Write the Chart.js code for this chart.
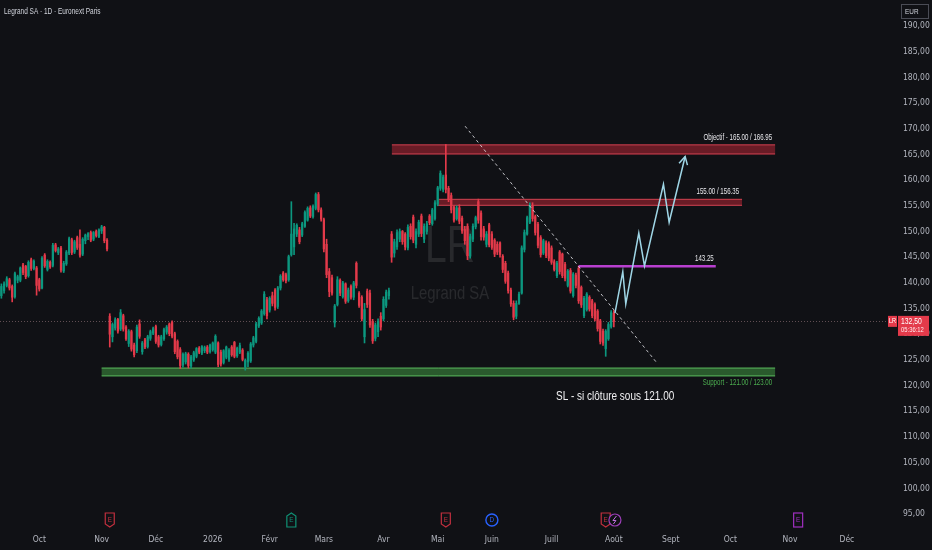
<!DOCTYPE html>
<html>
<head>
<meta charset="utf-8">
<script src="https://cdn.jsdelivr.net/npm/chart.js@4.4.1/dist/chart.umd.min.js"></script>
<style>
  html, body { margin: 0; padding: 0; background: #101115; }
  #wrap { width: 932px; height: 550px; }
</style>
</head>
<body>
<div id="wrap"><canvas id="myChart" width="932" height="550"></canvas></div>
<script>
'use strict';

// daily candles, 11 Sept 2025 -> 3 Aug 2026 (index = trading day)
let candleOpen = [
  137.5, 138.5, 139.5, 140.6, 139.3, 137.3, 140.5, 140.5, 143.5, 143.2,
  141.4, 144.5, 142.8, 142.9, 140.6, 139.0, 145.4, 142.6, 144.0, 143.4,
  147.4, 145.9, 146.8, 142.3, 143.7, 145.8, 148.4, 146.0, 148.8, 147.5,
  145.6, 148.2, 149.0, 149.8, 148.5, 150.0, 149.0, 150.1, 150.8, 148.3,
  133.5, 129.5, 131.2, 132.9, 131.0, 133.6, 131.4, 128.2, 130.5, 127.9,
  126.8, 132.0, 126.6, 128.9, 127.6, 129.2, 130.2, 131.5, 129.5, 128.0,
  129.1, 130.4, 132.0, 132.3, 130.1, 128.6, 127.0, 124.0, 124.6, 126.1,
  123.8, 125.0, 125.7, 127.3, 126.3, 126.8, 127.5, 126.6, 127.0, 126.5,
  128.3, 126.5, 124.5, 125.5, 125.1, 127.5, 128.4, 125.8, 126.5, 126.9,
  123.6, 124.6, 124.8, 127.9, 128.6, 131.6, 132.2, 134.0, 136.7, 134.7,
  137.5, 138.6, 135.4, 139.0, 141.9, 141.6, 140.6, 145.5, 147.0, 149.5,
  150.3, 149.3, 151.0, 152.2, 154.6, 152.9, 154.5, 157.2, 154.2, 152.3,
  147.5, 142.2, 141.0, 132.2, 135.8, 140.5, 137.3, 139.8, 136.5, 139.3,
  137.2, 143.8, 138.0, 137.2, 129.5, 138.4, 138.0, 132.5, 129.2, 130.5,
  133.5, 133.0, 135.6, 137.5, 149.5, 145.8, 147.0, 148.5, 150.0, 149.5,
  146.8, 151.0, 152.8, 147.5, 149.5, 153.0, 148.5, 150.0, 153.0, 151.5,
  152.5, 155.3, 158.4, 158.2, 161.0, 158.4, 157.0, 154.8, 152.5, 154.6,
  152.6, 150.4, 151.0, 145.2, 148.5, 150.9, 155.8, 153.6, 150.5, 147.5,
  151.3, 149.5, 148.3, 147.5, 147.8, 145.2, 143.8, 141.9, 138.6, 136.0,
  133.5, 136.0, 138.0, 146.5, 149.5, 151.8, 155.0, 152.9, 151.4, 148.8,
  145.8, 147.8, 147.6, 146.8, 144.1, 141.4, 146.0, 145.6, 143.6, 139.5,
  142.4, 137.5, 141.5, 142.8, 139.1, 133.6, 134.8, 137.2, 136.5, 135.8,
  134.5, 132.6, 130.6, 127.2, 129.1, 131.5, 134.1
];
let candleHigh = [
  139.8, 140.2, 141.2, 140.9, 139.6, 142.1, 141.5, 143.1, 143.8, 143.4,
  144.3, 144.8, 144.5, 143.2, 140.9, 145.1, 145.7, 144.5, 144.3, 147.7,
  147.7, 146.9, 147.1, 144.2, 146.3, 148.9, 148.7, 148.3, 149.1, 150.3,
  148.8, 149.5, 149.8, 150.1, 150.0, 150.3, 150.5, 151.2, 151.0, 148.6,
  134.0, 132.2, 133.2, 133.1, 134.8, 133.9, 131.7, 130.9, 130.8, 128.3,
  131.8, 132.8, 128.6, 129.2, 129.8, 130.8, 131.4, 131.8, 129.8, 129.8,
  131.2, 131.7, 132.2, 132.6, 130.4, 128.9, 127.4, 126.4, 126.5, 126.4,
  125.9, 126.7, 127.4, 127.6, 127.8, 127.7, 127.8, 128.1, 128.5, 129.9,
  128.5, 126.9, 127.0, 127.7, 127.2, 127.8, 128.6, 127.5, 128.3, 127.2,
  125.2, 126.6, 128.4, 129.6, 132.3, 133.4, 134.8, 138.3, 137.2, 137.3,
  138.2, 138.9, 139.3, 141.6, 142.2, 141.9, 145.4, 155.8, 151.6, 151.5,
  150.8, 151.8, 154.0, 154.8, 155.0, 155.2, 157.5, 157.6, 154.6, 152.6,
  148.5, 142.8, 141.5, 135.8, 141.2, 140.8, 140.3, 140.0, 139.0, 139.6,
  140.3, 144.1, 138.3, 137.5, 136.0, 138.8, 138.6, 132.9, 132.2, 133.0,
  134.2, 137.3, 138.6, 139.0, 150.0, 148.5, 150.3, 150.5, 150.2, 149.8,
  151.3, 151.5, 153.2, 150.5, 152.2, 153.4, 151.5, 152.0, 153.3, 154.5,
  156.0, 158.8, 161.8, 161.0, 166.95, 158.8, 157.5, 155.0, 155.0, 155.2,
  153.0, 151.0, 151.5, 149.5, 151.5, 153.0, 156.3, 154.0, 151.0, 150.0,
  151.6, 150.0, 148.6, 148.0, 148.0, 145.5, 144.2, 142.3, 139.0, 136.5,
  136.5, 138.2, 147.2, 150.3, 153.0, 155.6, 155.6, 153.2, 151.8, 149.2,
  148.5, 148.2, 148.0, 147.2, 144.5, 144.2, 146.3, 145.8, 144.0, 142.6,
  142.8, 142.0, 141.9, 143.25, 139.4, 137.4, 138.1, 137.5, 136.8, 136.1,
  134.8, 132.9, 131.0, 130.9, 132.3, 134.6, 134.6
];
let candleLow = [
  137.0, 138.0, 139.2, 138.6, 136.3, 137.0, 140.0, 140.2, 141.6, 140.8,
  141.1, 142.4, 142.5, 137.6, 138.4, 138.8, 143.0, 142.3, 142.8, 143.1,
  146.0, 145.5, 142.1, 142.0, 143.4, 145.5, 145.5, 145.7, 146.5, 145.0,
  145.3, 147.6, 148.4, 148.0, 148.2, 148.9, 148.8, 149.6, 147.8, 146.2,
  127.5, 128.5, 130.8, 130.2, 130.7, 130.6, 128.8, 127.6, 126.7, 125.6,
  126.4, 129.2, 126.1, 127.2, 127.3, 128.8, 129.9, 128.2, 127.5, 127.7,
  128.8, 130.0, 129.7, 129.3, 126.2, 125.2, 123.3, 123.6, 124.2, 123.4,
  123.4, 124.7, 125.4, 126.2, 126.0, 126.4, 126.2, 126.3, 126.7, 126.2,
  123.7, 123.8, 124.2, 125.2, 124.7, 125.7, 125.4, 125.5, 126.2, 124.8,
  123.0, 123.7, 124.5, 127.5, 128.3, 131.3, 131.9, 133.7, 133.0, 134.3,
  135.5, 134.7, 135.0, 138.6, 140.3, 140.0, 140.3, 145.2, 145.5, 149.0,
  147.6, 149.0, 150.8, 152.0, 152.7, 152.6, 154.2, 153.8, 152.0, 146.0,
  141.0, 137.3, 137.6, 131.4, 135.5, 137.5, 137.0, 136.0, 136.2, 136.8,
  136.7, 139.0, 135.2, 132.6, 128.3, 135.2, 131.3, 128.2, 128.7, 129.5,
  130.8, 132.6, 135.2, 136.8, 144.0, 145.0, 146.5, 148.0, 147.5, 146.4,
  146.4, 148.5, 147.8, 146.8, 149.0, 149.0, 147.8, 149.5, 151.3, 151.2,
  152.2, 155.0, 158.0, 157.7, 157.5, 155.8, 153.6, 151.8, 152.2, 151.5,
  149.6, 147.5, 144.5, 144.8, 148.0, 150.5, 151.6, 148.3, 148.3, 147.0,
  147.0, 146.5, 145.1, 145.5, 145.0, 142.0, 139.9, 138.0, 135.4, 132.8,
  133.0, 135.8, 137.8, 146.0, 149.3, 151.5, 152.0, 149.3, 146.8, 145.0,
  145.5, 144.9, 144.3, 143.6, 142.3, 141.0, 141.7, 141.0, 140.4, 139.2,
  138.0, 137.2, 139.0, 136.0, 135.2, 133.2, 134.5, 134.5, 133.2, 132.6,
  130.6, 128.1, 127.8, 125.7, 128.8, 131.2, 131.4
];
let candleClose = [
  139.3, 139.8, 140.8, 139.0, 137.2, 141.8, 141.2, 142.9, 142.0, 141.2,
  144.0, 142.8, 144.2, 139.5, 138.8, 144.8, 143.3, 144.2, 143.1, 147.3,
  146.3, 146.6, 142.5, 143.8, 146.0, 148.6, 145.9, 148.0, 146.9, 145.4,
  148.5, 149.3, 149.6, 148.3, 149.8, 149.2, 150.3, 150.9, 148.2, 146.6,
  130.0, 131.9, 132.8, 130.6, 134.2, 131.0, 129.1, 130.6, 127.1, 126.0,
  131.4, 129.6, 128.3, 127.5, 129.5, 130.5, 131.1, 128.6, 127.9, 129.5,
  130.9, 131.4, 130.1, 129.6, 126.6, 125.6, 123.9, 126.1, 126.2, 123.9,
  125.6, 126.4, 127.2, 126.5, 127.6, 127.4, 126.5, 127.9, 128.3, 129.6,
  124.1, 124.2, 126.8, 127.5, 126.9, 126.0, 125.7, 127.3, 127.8, 125.1,
  124.9, 126.3, 128.1, 129.3, 132.0, 133.1, 134.5, 137.8, 133.6, 137.0,
  136.0, 135.2, 139.0, 141.3, 140.6, 140.4, 145.1, 149.5, 150.5, 151.2,
  148.0, 151.5, 153.7, 154.5, 153.0, 154.9, 157.2, 154.2, 152.4, 146.6,
  141.6, 138.3, 138.0, 135.5, 140.6, 138.0, 140.0, 136.4, 138.6, 137.2,
  140.0, 139.5, 135.6, 133.0, 134.8, 135.8, 131.8, 128.7, 131.8, 132.5,
  131.4, 136.8, 138.2, 138.5, 145.0, 148.0, 149.8, 150.0, 148.0, 147.0,
  150.8, 149.0, 148.3, 150.0, 151.8, 149.6, 151.0, 151.5, 151.7, 154.2,
  155.6, 158.5, 161.3, 160.6, 158.2, 156.2, 154.2, 152.2, 154.6, 152.0,
  150.1, 148.2, 145.3, 149.0, 151.0, 152.7, 152.2, 149.0, 148.9, 149.5,
  147.4, 146.9, 145.6, 146.0, 145.5, 142.6, 140.3, 138.5, 135.9, 133.3,
  136.0, 137.8, 146.8, 149.8, 152.7, 155.1, 152.5, 149.8, 147.3, 145.5,
  148.2, 145.3, 144.8, 144.0, 142.6, 143.8, 142.2, 141.4, 140.9, 142.3,
  138.4, 141.7, 139.5, 136.5, 135.7, 137.0, 137.8, 134.9, 133.6, 133.0,
  131.1, 128.6, 128.3, 130.6, 131.9, 134.2, 132.5
];

// time axis: first trading day of each month and its label
let monthIdx = [14, 37, 57, 78, 99, 119, 141, 161, 181, 203, 226, 247, 269, 291, 312];
let monthLabels = ['Oct', 'Nov', 'Déc', '2026', 'Févr', 'Mars', 'Avr', 'Mai', 'Juin', 'Juill', 'Août', 'Sept', 'Oct', 'Nov', 'Déc'];

// drawn zones (price bands) and their labels
let zoneBottom = [165.0, 155.0, 121.8];
let zoneTop = [166.95, 156.35, 123.5];
let zoneStart = [144.1, 161.1, 37.0];
let zoneEnd = [285.5, 273.3, 285.5];
let zoneLabels = ['Objectif - 165.00 / 166.95', '155.00 / 156.35', 'Support - 121.00 / 123.00'];

// breakout level
let levelIdx = [213, 263.6];
let levelPrice = [143.25, 143.25];

// falling trendline
let trendIdx = [171.1, 241.6];
let trendPrice = [170.5, 124.6];

// projected path
let projIdx = [226.4, 229.3, 230.4, 235.2, 237.3, 244.3, 246.4, 252.3];
let projPrice = [134.1, 142.2, 135.9, 149.7, 143.3, 159.2, 151.8, 164.6];

// events on the time axis
let eventIdx = [40, 107, 164, 181, 223, 226.4, 294];
let eventKind = ['E-', 'E+', 'E-', 'D', 'E-', 'S', 'E?'];

let lastPrice = 132.5;

const UP = '#0c977f';
const DOWN = '#e33a4a';
const FONT = '"Liberation Sans Narrow", "DejaVu Sans Condensed", "Liberation Sans", sans-serif';

let candleColor = candleClose.map((c, i) => (c >= candleOpen[i] ? UP : DOWN));
let wickData = candleLow.map((l, i) => ({ x: i, y: [l, candleHigh[i]] }));
let bodyData = candleOpen.map((o, i) => ({ x: i, y: [o, candleClose[i]] }));

function fmt(v) {
  return v.toFixed(2).replace('.', ',');
}

function squashText(ctx, str, x, y, align, font, color, squash) {
  ctx.save();
  ctx.font = font;
  ctx.fillStyle = color;
  ctx.textAlign = align;
  ctx.textBaseline = 'middle';
  ctx.translate(x, y);
  ctx.scale(squash, 1);
  ctx.fillText(str, 0, 0);
  ctx.restore();
}

function shield(ctx, x, y, color, up, letter) {
  ctx.save();
  ctx.beginPath();
  if (up) {
    ctx.moveTo(x, y - 7); ctx.lineTo(x + 4.5, y - 4); ctx.lineTo(x + 4.5, y + 7);
    ctx.lineTo(x - 4.5, y + 7); ctx.lineTo(x - 4.5, y - 4);
  } else {
    ctx.moveTo(x - 4.5, y - 7); ctx.lineTo(x + 4.5, y - 7); ctx.lineTo(x + 4.5, y + 4);
    ctx.lineTo(x, y + 7); ctx.lineTo(x - 4.5, y + 4);
  }
  ctx.closePath();
  ctx.fillStyle = '#101115';
  ctx.fill();
  ctx.strokeStyle = color;
  ctx.lineWidth = 1.2;
  ctx.stroke();
  ctx.restore();
  squashText(ctx, letter, x, y, 'center', '7px "Liberation Sans"', color, 0.9);
}

const overlay = {
  id: 'overlay',
  beforeDatasetsDraw(chart) {
    const { ctx, scales: { x, y } } = chart;
    // watermark
    squashText(ctx, 'LR', 450, 248, 'center', '52px "Liberation Sans"', 'rgba(255,255,255,0.1)', 0.75);
    squashText(ctx, 'Legrand SA', 450, 294, 'center', '19px "Liberation Sans"', 'rgba(255,255,255,0.1)', 0.78);

    // price bands
    const fills = ['rgba(178,38,52,0.55)', 'rgba(178,38,52,0.55)', 'rgba(60,140,62,0.6)'];
    const edges = ['#c9404f', '#c9404f', '#56b05a'];
    for (let i = 0; i < zoneTop.length; i++) {
      const x0 = x.getPixelForValue(zoneStart[i]);
      const x1 = x.getPixelForValue(zoneEnd[i]);
      const y0 = y.getPixelForValue(zoneTop[i]);
      const y1 = y.getPixelForValue(zoneBottom[i]);
      ctx.fillStyle = fills[i];
      ctx.fillRect(x0, y0, x1 - x0, y1 - y0);
      ctx.strokeStyle = edges[i];
      ctx.lineWidth = 1;
      ctx.beginPath();
      ctx.moveTo(x0, y0 + 0.5); ctx.lineTo(x1, y0 + 0.5);
      ctx.moveTo(x0, y1 - 0.5); ctx.lineTo(x1, y1 - 0.5);
      ctx.stroke();
    }

    // last price line
    const py = Math.round(y.getPixelForValue(lastPrice)) + 0.5;
    ctx.save();
    ctx.strokeStyle = 'rgba(150,120,125,0.6)';
    ctx.setLineDash([1, 2]);
    ctx.beginPath();
    ctx.moveTo(0, py); ctx.lineTo(chart.chartArea.right, py);
    ctx.stroke();
    ctx.restore();
  },
  afterDatasetsDraw(chart) {
    const { ctx, scales: { x, y } } = chart;
    const labelFont = '8.5px "Liberation Sans"';
    // band labels
    for (let i = 0; i < zoneTop.length; i++) {
      const xr = x.getPixelForValue(zoneEnd[i]) - 3;
      if (i < 2) {
        squashText(ctx, zoneLabels[i], xr, y.getPixelForValue(zoneTop[i]) - 7, 'right', labelFont, '#e8e8ec', 0.72);
      } else {
        squashText(ctx, zoneLabels[i], xr, y.getPixelForValue(zoneBottom[i]) + 6, 'right', labelFont, '#4caf50', 0.72);
      }
    }
    squashText(ctx, '143.25', x.getPixelForValue(levelIdx[1]) - 2, y.getPixelForValue(levelPrice[1]) - 7, 'right', labelFont, '#e8e8ec', 0.72);
    squashText(ctx, 'SL - si clôture sous 121.00', 556, 396, 'left', '13.5px "Liberation Sans"', '#f0f0f2', 0.74);

    // arrow head on projected path
    const n = projIdx.length;
    const ax = x.getPixelForValue(projIdx[n - 1]);
    const ay = y.getPixelForValue(projPrice[n - 1]);
    const bx = x.getPixelForValue(projIdx[n - 2]);
    const by = y.getPixelForValue(projPrice[n - 2]);
    const ang = Math.atan2(ay - by, ax - bx);
    ctx.save();
    ctx.strokeStyle = '#9fd6e6';
    ctx.lineWidth = 1.5;
    ctx.beginPath();
    ctx.moveTo(ax - 9 * Math.cos(ang - 0.5), ay - 9 * Math.sin(ang - 0.5));
    ctx.lineTo(ax, ay);
    ctx.lineTo(ax - 9 * Math.cos(ang + 0.5), ay - 9 * Math.sin(ang + 0.5));
    ctx.stroke();
    ctx.restore();

    // events
    const ey = 520;
    for (let i = 0; i < eventIdx.length; i++) {
      const ex = x.getPixelForValue(eventIdx[i]);
      const k = eventKind[i];
      if (k === 'E-') shield(ctx, ex, ey, '#c2303f', false, 'E');
      if (k === 'E+') shield(ctx, ex, ey, '#109276', true, 'E');
      if (k === 'E?') {
        ctx.fillStyle = '#101115';
        ctx.fillRect(ex - 4.5, ey - 7, 9, 14);
        ctx.strokeStyle = '#a030c0';
        ctx.lineWidth = 1.2;
        ctx.strokeRect(ex - 4.5, ey - 7, 9, 14);
        squashText(ctx, 'E', ex, ey, 'center', '7px "Liberation Sans"', '#a030c0', 0.9);
      }
      if (k === 'D') {
        ctx.beginPath();
        ctx.arc(ex, ey, 6, 0, Math.PI * 2);
        ctx.fillStyle = '#101115';
        ctx.fill();
        ctx.strokeStyle = '#2962ff';
        ctx.lineWidth = 1.4;
        ctx.stroke();
        squashText(ctx, 'D', ex, ey, 'center', '7px "Liberation Sans"', '#2962ff', 0.9);
      }
      if (k === 'S') {
        ctx.beginPath();
        ctx.arc(ex, ey, 6, 0, Math.PI * 2);
        ctx.fillStyle = '#101115';
        ctx.fill();
        ctx.strokeStyle = '#9c3fb8';
        ctx.lineWidth = 1.2;
        ctx.stroke();
        ctx.beginPath();
        ctx.moveTo(ex + 1.5, ey - 4); ctx.lineTo(ex - 2, ey + 0.5); ctx.lineTo(ex + 1, ey + 0.5);
        ctx.lineTo(ex - 1.5, ey + 4);
        ctx.strokeStyle = '#c070e0';
        ctx.lineWidth = 1;
        ctx.stroke();
      }
    }
  },
  afterDraw(chart) {
    const { ctx, scales: { y } } = chart;
    // title
    squashText(ctx, 'Legrand SA · 1D · Euronext Paris', 4, 12, 'left', '9px "Liberation Sans"', '#d1d4dc', 0.72);

    // currency box
    ctx.fillStyle = '#101115';
    ctx.fillRect(900, 3, 30, 17);
    ctx.strokeStyle = '#4a4c55';
    ctx.lineWidth = 1;
    ctx.strokeRect(901.5, 4.5, 27, 14);
    squashText(ctx, 'EUR', 905, 11.5, 'left', '8px "Liberation Sans"', '#d1d4dc', 0.8);

    // last price tags
    const py = y.getPixelForValue(lastPrice);
    ctx.fillStyle = DOWN;
    ctx.fillRect(888, py - 5.5, 9, 11);
    ctx.fillRect(898, py - 5.5, 31, 20);
    squashText(ctx, 'LR', 892.5, py, 'center', '7px "Liberation Sans"', '#ffffff', 0.8);
    squashText(ctx, fmt(lastPrice), 901, py, 'left', '8.5px "Liberation Sans"', '#ffffff', 0.8);
    squashText(ctx, '05:36:12', 901, py + 9, 'left', '7.5px "Liberation Sans"', '#ffe8ea', 0.78);
  }
};

Chart.defaults.font.family = FONT;

const config = {
  type: 'bar',
  data: {
    datasets: [
      {
        type: 'line',
        label: 'Projection',
        data: projIdx.map((v, i) => ({ x: v, y: projPrice[i] })),
        borderColor: '#9fd6e6',
        borderWidth: 1.5,
        pointRadius: 0,
        tension: 0,
        order: 0
      },
      {
        type: 'line',
        label: 'Trendline',
        data: trendIdx.map((v, i) => ({ x: v, y: trendPrice[i] })),
        borderColor: 'rgba(235,235,240,0.8)',
        borderWidth: 1,
        borderDash: [3, 3],
        pointRadius: 0,
        order: 0
      },
      {
        type: 'line',
        label: '143.25',
        data: levelIdx.map((v, i) => ({ x: v, y: levelPrice[i] })),
        borderColor: '#b83fcf',
        borderWidth: 2.5,
        pointRadius: 0,
        order: 0
      },
      {
        label: 'Body',
        data: bodyData,
        backgroundColor: candleColor,
        barThickness: 1.6,
        minBarLength: 1,
        grouped: false,
        order: 1
      },
      {
        label: 'Wick',
        data: wickData,
        backgroundColor: candleColor,
        barThickness: 1,
        grouped: false,
        order: 2
      }
    ]
  },
  options: {
    responsive: false,
    animation: false,
    layout: { padding: 0, autoPadding: false },
    plugins: {
      legend: { display: false },
      tooltip: { enabled: false }
    },
    scales: {
      x: {
        type: 'linear',
        offset: false,
        min: -0.5,
        max: 329,
        grid: { display: false, drawTicks: false, offset: false },
        border: { display: false },
        afterBuildTicks: (scale) => {
          scale.ticks = monthIdx.map((v) => ({ value: v }));
        },
        afterFit: (scale) => {
          scale.height = 20;
          scale.paddingLeft = 0;
          scale.paddingRight = 0;
        },
        ticks: {
          autoSkip: false,
          maxRotation: 0,
          padding: 5,
          color: '#b2b5be',
          font: { size: 8.5 },
          callback: (value, index) => monthLabels[index]
        }
      },
      y: {
        position: 'right',
        min: 91.89,
        max: 195.06,
        grid: { display: false, drawTicks: false },
        border: { display: false },
        afterBuildTicks: (scale) => {
          scale.ticks = scale.ticks.filter((t) => t.value <= 190);
        },
        afterFit: (scale) => {
          scale.width = 39;
          scale.paddingTop = 0;
          scale.paddingBottom = 0;
        },
        ticks: {
          stepSize: 5,
          includeBounds: false,
          padding: 10,
          color: '#b2b5be',
          font: { size: 8.5 },
          callback: (value) => fmt(value)
        }
      }
    }
  },
  plugins: [overlay]
};

const myChart = new Chart(document.getElementById('myChart'), config);
</script>
</body>
</html>
